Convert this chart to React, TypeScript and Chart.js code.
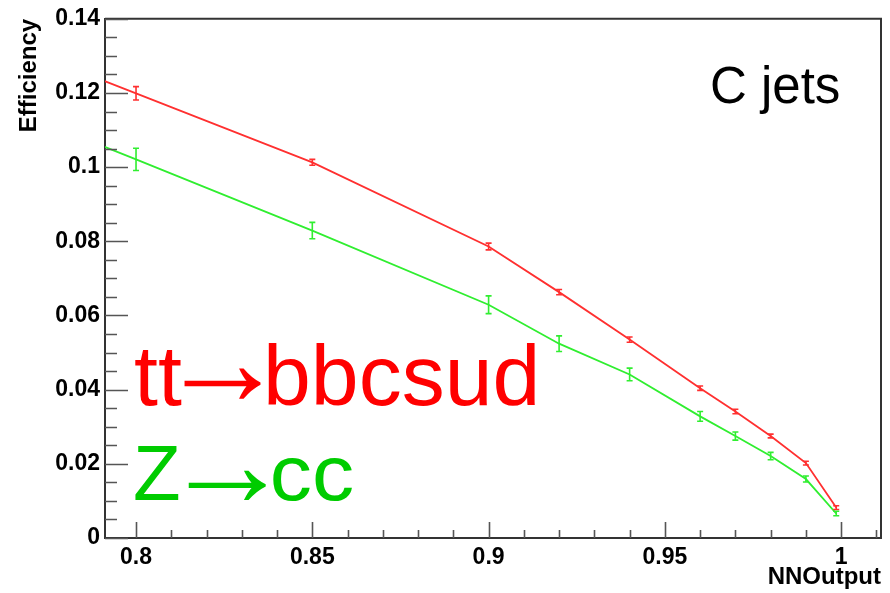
import { useEffect, useRef } from 'react';
import { Chart, registerables } from 'chart.js';

Chart.register(...registerables);

// ---- data ----
const nnOutput = [0.79, 0.8, 0.85, 0.9, 0.92, 0.94, 0.96, 0.97, 0.98, 0.99, 0.9986];
const ttEff = [0.1236, 0.1199, 0.1013, 0.0786, 0.0663, 0.0535, 0.0404, 0.0341, 0.0275, 0.0202, 0.0082];
const ttErr = [null, 0.0018, 0.0008, 0.0009, 0.0007, 0.0007, 0.0006, 0.0006, 0.0005, 0.0005, 0.0005];
const zEff = [0.1059, 0.1021, 0.0829, 0.0629, 0.0524, 0.0441, 0.0328, 0.0275, 0.0221, 0.0159, 0.0066];
const zErr = [null, 0.003, 0.0022, 0.0024, 0.0021, 0.0017, 0.0013, 0.0011, 0.001, 0.0008, 0.0006];

const xTickValues = [0.8, 0.85, 0.9, 0.95, 1.0];
const xTickLabels = ['0.8', '0.85', '0.9', '0.95', '1'];
const yTickValues = [0, 0.02, 0.04, 0.06, 0.08, 0.1, 0.12, 0.14];
const yTickLabels = ['0', '0.02', '0.04', '0.06', '0.08', '0.1', '0.12', '0.14'];
const xMinorTicks = [0.8, 0.81, 0.82, 0.83, 0.84, 0.85, 0.86, 0.87, 0.88, 0.89, 0.9, 0.91, 0.92, 0.93, 0.94, 0.95, 0.96, 0.97, 0.98, 0.99, 1.0, 1.01];
const yMinorTicks = [0, 0.005, 0.01, 0.015, 0.02, 0.025, 0.03, 0.035, 0.04, 0.045, 0.05, 0.055, 0.06, 0.065, 0.07, 0.075, 0.08, 0.085, 0.09, 0.095, 0.1, 0.105, 0.11, 0.115, 0.12, 0.125, 0.13, 0.135, 0.14];

// series labels: [before arrow, arrow, after arrow]
const seriesLabelParts = [
  ['tt', '→', 'bbcsud'],
  ['Z', '→', 'cc'],
];
const seriesNames = seriesLabelParts.map((p) => p.join(''));
const panelTitle = 'C jets';
const xTitle = 'NNOutput';
const yTitle = 'Efficiency';

const RED_LINE = '#ff3030';
const GREEN_LINE = '#30ee30';
const FONT = "'Liberation Sans', Arial, Helvetica, sans-serif";
const AXIS = '#333333';

const errors = [ttErr, zErr];

function drawLabel(
  ctx: CanvasRenderingContext2D,
  parts: string[],
  color: string,
  size: number,
  left: number,
  baseline: number,
  arrowLeft: number,
  arrowRight: number,
  arrowMidY: number,
  arrowH: number,
  afterLeft: number,
  afterScaleX: number
) {
  ctx.fillStyle = color;
  ctx.font = `${size}px ${FONT}`;
  const m0 = ctx.measureText(parts[0]);
  ctx.fillText(parts[0], left + m0.actualBoundingBoxLeft, baseline);
  // arrow, stretched to the long ROOT-style arrow
  ctx.save();
  ctx.font = `100px ${FONT}`;
  const ma = ctx.measureText(parts[1]);
  const w = ma.actualBoundingBoxLeft + ma.actualBoundingBoxRight;
  const h = ma.actualBoundingBoxAscent + ma.actualBoundingBoxDescent;
  const sx = (arrowRight - arrowLeft) / w;
  const sy = arrowH / h;
  ctx.translate(arrowLeft, arrowMidY);
  ctx.scale(sx, sy);
  ctx.textBaseline = 'alphabetic';
  const midOff = (ma.actualBoundingBoxAscent - ma.actualBoundingBoxDescent) / 2;
  ctx.fillText(parts[1], ma.actualBoundingBoxLeft, midOff);
  ctx.restore();
  ctx.save();
  ctx.font = `${size}px ${FONT}`;
  const m2 = ctx.measureText(parts[2]);
  ctx.translate(afterLeft, baseline);
  ctx.scale(afterScaleX, 1);
  ctx.fillText(parts[2], m2.actualBoundingBoxLeft, 0);
  ctx.restore();
}

const decorPlugin = {
  id: 'decor',
  afterDatasetsDraw(chart: any) {
    const ctx = chart.ctx;
    const xs = chart.scales.x;
    const ys = chart.scales.y;
    const area = chart.chartArea;
    ctx.save();
    // error bars
    chart.data.datasets.forEach((ds: any, i: number) => {
      const errs = errors[i];
      ctx.strokeStyle = ds.borderColor;
      ctx.lineWidth = 1.6;
      nnOutput.forEach((xv, j) => {
        const e = errs[j];
        if (e == null) return;
        const v = ds.data[j].y;
        const px = xs.getPixelForValue(xv);
        const top = ys.getPixelForValue(v + e);
        const bot = ys.getPixelForValue(v - e);
        ctx.beginPath();
        ctx.moveTo(px, top);
        ctx.lineTo(px, bot);
        ctx.moveTo(px - 3, top);
        ctx.lineTo(px + 3, top);
        ctx.moveTo(px - 3, bot);
        ctx.lineTo(px + 3, bot);
        ctx.stroke();
      });
    });
    // frame top/right
    ctx.strokeStyle = AXIS;
    ctx.lineWidth = 2;
    ctx.beginPath();
    ctx.moveTo(area.left, area.top);
    ctx.lineTo(area.right, area.top);
    ctx.lineTo(area.right, area.bottom);
    ctx.stroke();
    // inward ticks
    ctx.strokeStyle = '#555555';
    ctx.lineWidth = 1.6;
    ctx.beginPath();
    yMinorTicks.forEach((v) => {
      const py = Math.round(ys.getPixelForValue(v)) + 0.5;
      const major = yTickValues.some((m) => Math.abs(m - v) < 1e-9);
      ctx.moveTo(area.left, py);
      ctx.lineTo(area.left + (major ? 23 : 12), py);
    });
    xMinorTicks.forEach((v) => {
      const px = Math.round(xs.getPixelForValue(v)) + 0.5;
      const major = xTickValues.some((m) => Math.abs(m - v) < 1e-9);
      ctx.moveTo(px, area.bottom);
      ctx.lineTo(px, area.bottom - (major ? 16 : 8));
    });
    ctx.stroke();
    // annotation texts
    ctx.textBaseline = 'alphabetic';
    ctx.textAlign = 'left';
    ctx.fillStyle = '#000000';
    ctx.font = `51px ${FONT}`;
    const mt = ctx.measureText(panelTitle);
    ctx.fillText(panelTitle, 712 + mt.actualBoundingBoxLeft, 103);
    drawLabel(ctx, seriesLabelParts[0], '#ff0000', 86, 135, 405, 184, 261, 383, 31, 268, 1);
    drawLabel(ctx, seriesLabelParts[1], '#00cc00', 78, 135, 500, 188, 266, 485, 30, 273, 1.08);
    ctx.restore();
  },
};

export default function App() {
  const ref = useRef<HTMLCanvasElement>(null);
  useEffect(() => {
    if (!ref.current) return;
    const tickFont = { family: FONT, size: 23, weight: 'bold' as const };
    const titleFont = { family: FONT, size: 24, weight: 'bold' as const };
    const chart = new Chart(ref.current, {
      type: 'line',
      data: {
        datasets: [
          {
            label: seriesNames[0],
            data: nnOutput.map((x, i) => ({ x, y: ttEff[i] })),
            borderColor: RED_LINE,
            borderWidth: 1.8,
            pointRadius: 0,
            tension: 0,
          },
          {
            label: seriesNames[1],
            data: nnOutput.map((x, i) => ({ x, y: zEff[i] })),
            borderColor: GREEN_LINE,
            borderWidth: 1.8,
            pointRadius: 0,
            tension: 0,
          },
        ],
      },
      options: {
        animation: false,
        responsive: false,
        maintainAspectRatio: false,
        layout: { padding: { top: 13, right: 9, left: 0, bottom: 0 } },
        plugins: { legend: { display: false }, tooltip: { enabled: false } },
        scales: {
          x: {
            type: 'linear',
            min: 0.7912,
            max: 1.0113,
            grid: { display: false, drawTicks: false },
            border: { display: true, color: AXIS, width: 2 },
            afterBuildTicks: (s: any) => {
              s.ticks = xTickValues.map((value) => ({ value }));
            },
            afterFit: (s: any) => {
              s.height = 55;
            },
            ticks: {
              font: tickFont,
              color: '#000',
              padding: 6,
              maxRotation: 0,
              autoSkip: false,
              callback: (value: any) => {
                const i = xTickValues.findIndex((v) => Math.abs(v - value) < 1e-9);
                return i >= 0 ? xTickLabels[i] : '';
              },
            },
            title: {
              display: true,
              text: xTitle,
              align: 'end',
              color: '#000',
              font: titleFont,
              padding: { top: 0, bottom: 1 },
            },
          },
          y: {
            type: 'linear',
            min: 0,
            max: 0.14,
            grid: { display: false, drawTicks: false },
            border: { display: true, color: AXIS, width: 2 },
            afterBuildTicks: (s: any) => {
              s.ticks = yTickValues.map((value) => ({ value }));
            },
            afterFit: (s: any) => {
              s.width = 105;
            },
            ticks: {
              font: tickFont,
              color: '#000',
              padding: 5,
              autoSkip: false,
              callback: (value: any) => {
                const i = yTickValues.findIndex((v) => Math.abs(v - value) < 1e-9);
                return i >= 0 ? yTickLabels[i] : '';
              },
            },
            title: {
              display: true,
              text: yTitle,
              align: 'end',
              color: '#000',
              font: titleFont,
              padding: { top: 15, bottom: 0 },
            },
          },
        },
      },
      plugins: [decorPlugin],
    });
    return () => chart.destroy();
  }, []);
  return (
    <div style={{ position: 'absolute', left: 0, top: 0, width: 890, height: 593, background: '#fff' }}>
      <canvas ref={ref} width={890} height={593} style={{ display: 'block', width: 890, height: 593 }} />
    </div>
  );
}
